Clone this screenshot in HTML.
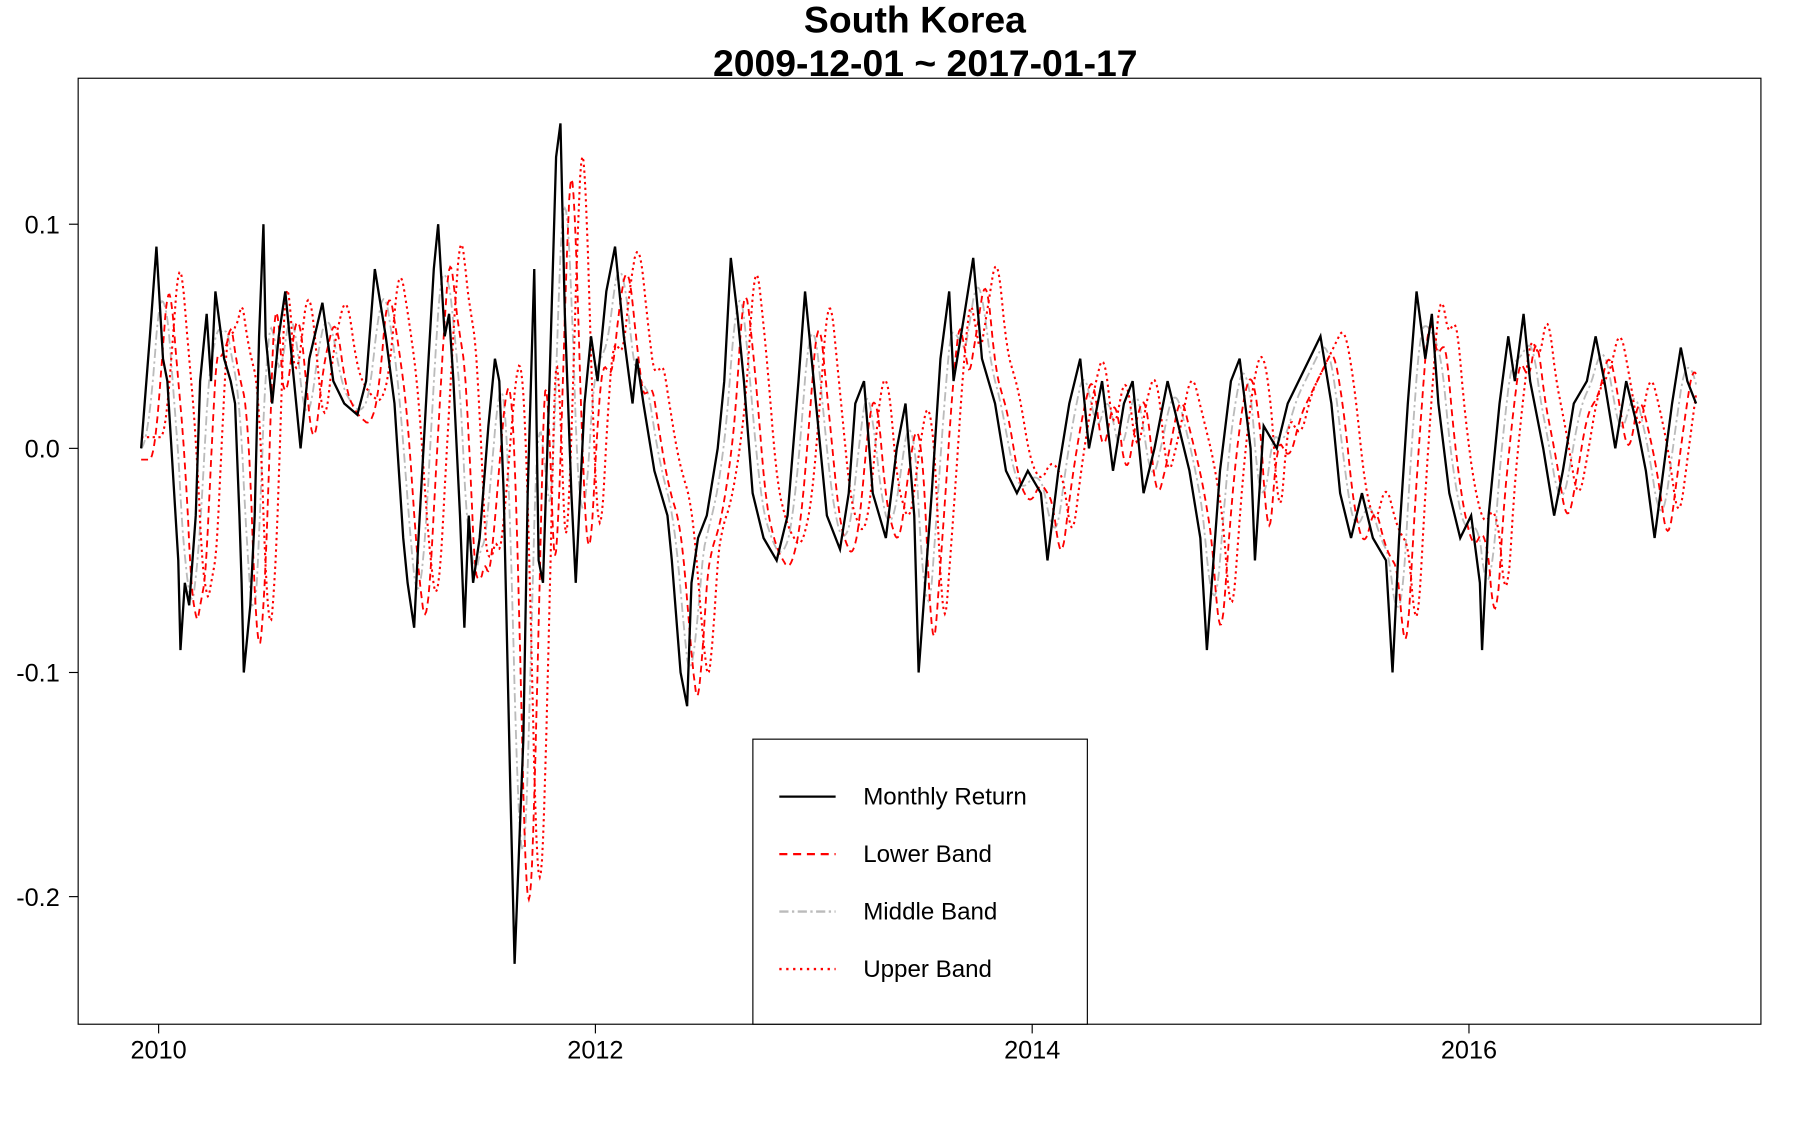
<!DOCTYPE html>
<html><head><meta charset="utf-8"><style>
html,body{margin:0;padding:0;background:#fff}
svg{display:block;font-family:"Liberation Sans",Arial,sans-serif}
</style></head><body>
<svg width="1800" height="1122" viewBox="0 0 1566 976">
<rect width="1566" height="976" fill="#fff"/>
<text x="796" y="28" text-anchor="middle" font-size="32.5" font-weight="bold">South Korea</text>
<text x="805" y="66" text-anchor="middle" font-size="32.5" font-weight="bold">2009-12-01 ~ 2017-01-17</text>
<g id="plot"></g>
<g id="axes"></g>
<rect x="68" y="68" width="1464" height="823" fill="none" stroke="#000" stroke-width="1"/>
<g>
<rect x="655" y="643" width="291" height="248" fill="#fff" stroke="#000"/>
<line x1="678" y1="693" x2="727" y2="693" stroke="#000" stroke-width="2"/>
<text x="751" y="700" font-size="21">Monthly Return</text>
<line x1="678" y1="743" x2="727" y2="743" stroke="#f00" stroke-width="2" stroke-dasharray="7,5"/>
<text x="751" y="750" font-size="21">Lower Band</text>
<line x1="678" y1="793" x2="727" y2="793" stroke="#bbb" stroke-width="2" stroke-dasharray="8,3,2,3"/>
<text x="751" y="800" font-size="21">Middle Band</text>
<line x1="678" y1="843" x2="727" y2="843" stroke="#f00" stroke-width="2" stroke-dasharray="2,4"/>
<text x="751" y="850" font-size="21">Upper Band</text>
</g>
</svg>
<script>
const times=[2009.92,2009.96,2009.99,2010.02,2010.04,2010.09,2010.10,2010.12,2010.14,2010.17,2010.19,2010.22,2010.24,2010.25,2010.26,2010.30,2010.33,2010.35,2010.37,2010.38,2010.39,2010.42,2010.44,2010.46,2010.48,2010.49,2010.52,2010.55,2010.58,2010.62,2010.65,2010.69,2010.75,2010.80,2010.85,2010.91,2010.95,2010.99,2011.04,2011.08,2011.12,2011.14,2011.17,2011.19,2011.23,2011.26,2011.28,2011.31,2011.33,2011.35,2011.38,2011.40,2011.42,2011.44,2011.47,2011.51,2011.54,2011.56,2011.58,2011.61,2011.63,2011.67,2011.69,2011.72,2011.74,2011.76,2011.79,2011.82,2011.84,2011.86,2011.89,2011.91,2011.95,2011.98,2012.01,2012.05,2012.09,2012.13,2012.17,2012.19,2012.22,2012.27,2012.33,2012.35,2012.39,2012.42,2012.44,2012.47,2012.51,2012.56,2012.59,2012.62,2012.65,2012.68,2012.72,2012.77,2012.83,2012.88,2012.93,2012.96,2013.01,2013.06,2013.12,2013.16,2013.19,2013.23,2013.27,2013.33,2013.38,2013.42,2013.46,2013.48,2013.51,2013.54,2013.58,2013.62,2013.64,2013.69,2013.73,2013.77,2013.83,2013.88,2013.93,2013.98,2014.04,2014.07,2014.12,2014.17,2014.22,2014.26,2014.32,2014.37,2014.42,2014.46,2014.51,2014.56,2014.62,2014.67,2014.72,2014.77,2014.80,2014.83,2014.86,2014.91,2014.95,2015.00,2015.02,2015.06,2015.12,2015.17,2015.22,2015.27,2015.32,2015.37,2015.41,2015.46,2015.51,2015.56,2015.62,2015.65,2015.68,2015.72,2015.76,2015.80,2015.83,2015.86,2015.91,2015.96,2016.01,2016.05,2016.06,2016.09,2016.14,2016.18,2016.21,2016.25,2016.28,2016.34,2016.39,2016.43,2016.48,2016.54,2016.58,2016.62,2016.67,2016.72,2016.77,2016.81,2016.85,2016.89,2016.93,2016.97,2017.00,2017.04];
const returns=[0.00,0.05,0.09,0.04,0.03,-0.05,-0.09,-0.06,-0.07,-0.03,0.03,0.06,0.03,0.05,0.07,0.04,0.03,0.02,-0.03,-0.06,-0.10,-0.07,-0.03,0.05,0.10,0.05,0.02,0.05,0.07,0.03,0.00,0.04,0.065,0.03,0.02,0.015,0.03,0.08,0.05,0.02,-0.04,-0.06,-0.08,-0.04,0.03,0.08,0.10,0.05,0.06,0.03,-0.03,-0.08,-0.03,-0.06,-0.04,0.01,0.04,0.03,-0.02,-0.15,-0.23,-0.13,-0.02,0.08,-0.05,-0.06,0.03,0.13,0.145,0.06,-0.02,-0.06,0.02,0.05,0.03,0.07,0.09,0.05,0.02,0.04,0.02,-0.01,-0.03,-0.05,-0.10,-0.115,-0.06,-0.04,-0.03,0.00,0.03,0.085,0.06,0.03,-0.02,-0.04,-0.05,-0.03,0.03,0.07,0.02,-0.03,-0.045,-0.02,0.02,0.03,-0.02,-0.04,0.00,0.02,-0.03,-0.10,-0.06,-0.02,0.04,0.07,0.03,0.06,0.085,0.04,0.02,-0.01,-0.02,-0.01,-0.02,-0.05,-0.01,0.02,0.04,0.00,0.03,-0.01,0.02,0.03,-0.02,0.00,0.03,0.01,-0.01,-0.04,-0.09,-0.05,-0.01,0.03,0.04,0.00,-0.05,0.01,0.00,0.02,0.03,0.04,0.05,0.02,-0.02,-0.04,-0.02,-0.04,-0.05,-0.10,-0.04,0.02,0.07,0.04,0.06,0.02,-0.02,-0.04,-0.03,-0.06,-0.09,-0.03,0.02,0.05,0.03,0.06,0.03,0.00,-0.03,-0.01,0.02,0.03,0.05,0.03,0.00,0.03,0.01,-0.01,-0.04,-0.01,0.02,0.045,0.03,0.02];
const yTicks=[0.1,0.0,-0.1,-0.2];
const yTickLabels=["0.1","0.0","-0.1","-0.2"];
const xTicks=[2010,2012,2014,2016];
const xTickLabels=["2010","2012","2014","2016"];
const midWindow=0.06, lowerLag=0.04, upperLag=0.09;

const NS="http://www.w3.org/2000/svg";
function sx(t){return 138+(t-2010)*190;}
function sy(v){return 390-v*1950;}
function interp(t){
  if(t<=times[0])return returns[0];
  for(let i=1;i<times.length;i++){if(t<=times[i]){const f=(t-times[i-1])/(times[i]-times[i-1]);return returns[i-1]+f*(returns[i]-returns[i-1]);}}
  return returns[returns.length-1];
}
function smooth(t,w){let s=0,n=0;for(let k=0;k<=10;k++){s+=interp(t-w*k/10);n++;}return s/n;}
function mkPath(pts,stroke,dash,width,name){
  const p=document.createElementNS(NS,'path');
  p.setAttribute('d','M'+pts.map(q=>q[0].toFixed(1)+','+q[1].toFixed(1)).join('L'));
  p.setAttribute('fill','none');p.setAttribute('stroke',stroke);p.setAttribute('stroke-width',width);
  if(dash)p.setAttribute('stroke-dasharray',dash);
  
  
  document.getElementById('plot').appendChild(p);
}
const t0=times[0],t1=times[times.length-1];
const mid=[],low=[],up=[];
for(let t=t0;t<=t1+1e-9;t+=0.005){
  mid.push([sx(t),sy(smooth(t,midWindow))]);
  low.push([sx(t),sy(smooth(t-lowerLag,0.04)-0.005)]);
  up.push([sx(t),sy(smooth(t-upperLag,0.04)+0.005)]);
}
mkPath(mid,'#bbb','8,3,2,3',1.6,'middle-band');
mkPath(low,'#f00','6,4',1.6,'lower-band');
mkPath(up,'#f00','2,3',1.8,'upper-band');
mkPath(times.map((t,i)=>[sx(t),sy(returns[i])]),'#000','',2,'monthly-return-line');

const ax=document.getElementById('axes');
yTicks.forEach((v,i)=>{
  const l=document.createElementNS(NS,'line');
  l.setAttribute('x1',60);l.setAttribute('x2',68);l.setAttribute('y1',sy(v));l.setAttribute('y2',sy(v));l.setAttribute('stroke','#000');
  
  
  ax.appendChild(l);
  const tx=document.createElementNS(NS,'text');
  tx.setAttribute('x',52);tx.setAttribute('y',sy(v)+8);tx.setAttribute('text-anchor','end');tx.setAttribute('font-size','22');
  tx.textContent=yTickLabels[i];
  
  
  ax.appendChild(tx);
});
xTicks.forEach((t,i)=>{
  const l=document.createElementNS(NS,'line');
  l.setAttribute('x1',sx(t));l.setAttribute('x2',sx(t));l.setAttribute('y1',891);l.setAttribute('y2',899);l.setAttribute('stroke','#000');
  
  
  ax.appendChild(l);
  const tx=document.createElementNS(NS,'text');
  tx.setAttribute('x',sx(t));tx.setAttribute('y',921);tx.setAttribute('text-anchor','middle');tx.setAttribute('font-size','22');
  tx.textContent=xTickLabels[i];
  
  
  ax.appendChild(tx);
});
</script>
</body></html>
